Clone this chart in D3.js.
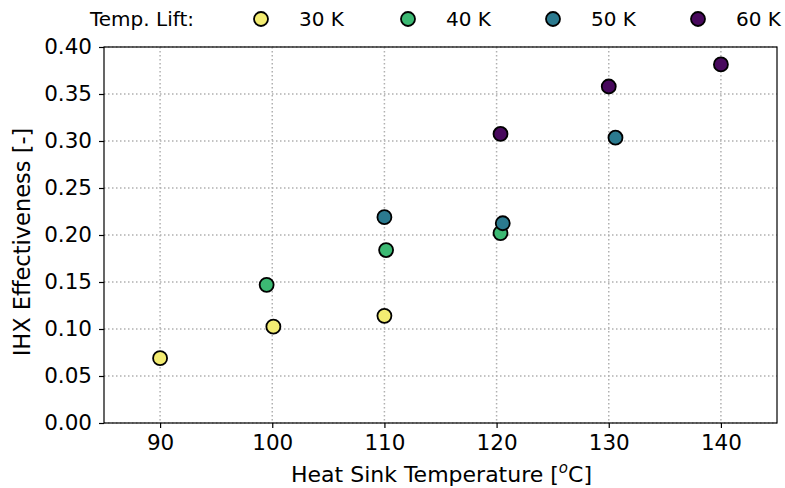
<!DOCTYPE html>
<html>
<head>
<meta charset="utf-8">
<script src="https://cdn.jsdelivr.net/npm/d3@7"></script>
<style>
  body { margin: 0; background: #fff; }
  text { font-family: "DejaVu Sans", sans-serif; fill: #000; }
</style>
</head>
<body>
<svg id="chart" width="785" height="488"></svg>
<script>
// series data
const lifts = ['30 K', '40 K', '50 K', '60 K'];
const colors = ['#f3ec72', '#3cb973', '#2b7a8f', '#48095d'];
const sink30 = [90.0, 100.1, 110.0];
const eff30 = [0.069, 0.1025, 0.114];
const sink40 = [99.5, 110.15, 120.35];
const eff40 = [0.147, 0.184, 0.202];
const sink50 = [110.0, 120.55, 130.6];
const eff50 = [0.219, 0.2125, 0.3035];
const sink60 = [120.35, 130.0, 140.0];
const eff60 = [0.3075, 0.358, 0.3815];
const xTicks = [90, 100, 110, 120, 130, 140];
const yTicks = [0, 0.05, 0.10, 0.15, 0.20, 0.25, 0.30, 0.35, 0.40];

const series = [
  { name: lifts[0], color: colors[0], x: sink30, y: eff30 },
  { name: lifts[1], color: colors[1], x: sink40, y: eff40 },
  { name: lifts[2], color: colors[2], x: sink50, y: eff50 },
  { name: lifts[3], color: colors[3], x: sink60, y: eff60 }
];

const svg = d3.select('#chart');
const m = { left: 104, right: 777, top: 47, bottom: 423 };

const x = d3.scaleLinear().domain([85, 145]).range([m.left, m.right]);
const y = d3.scaleLinear().domain([0, 0.40]).range([m.bottom, m.top]);

// grid
const grid = svg.append('g');
grid.selectAll('.gx').data(xTicks).enter().append('line')
  .attr('x1', d => x(d)).attr('x2', d => x(d))
  .attr('y1', m.top).attr('y2', m.bottom)
  .attr('stroke', '#b0b0b0').attr('stroke-width', 1.5)
  .attr('stroke-dasharray', '1.5,2.5');
grid.selectAll('.gy').data(yTicks).enter().append('line')
  .attr('x1', m.left).attr('x2', m.right)
  .attr('y1', d => y(d)).attr('y2', d => y(d))
  .attr('stroke', '#b0b0b0').attr('stroke-width', 1.5)
  .attr('stroke-dasharray', '1.5,2.5');

// axes
const xAxis = svg.append('g')
  .attr('transform', `translate(0,${m.bottom})`)
  .call(d3.axisBottom(x).tickValues(xTicks).tickSize(5).tickPadding(7).tickFormat(d3.format('d')));
const yAxis = svg.append('g')
  .attr('transform', `translate(${m.left},0)`)
  .call(d3.axisLeft(y).tickValues(yTicks).tickSize(5).tickPadding(7).tickFormat(d3.format('.2f')));
[xAxis, yAxis].forEach(a => {
  a.select('.domain').remove();
  a.selectAll('.tick line').attr('stroke', '#000').attr('stroke-width', 1.2);
  a.selectAll('.tick text').style('font-size', '21.5px').style('font-family', '"DejaVu Sans", sans-serif');
});

// frame
svg.append('rect')
  .attr('x', m.left).attr('y', m.top)
  .attr('width', m.right - m.left).attr('height', m.bottom - m.top)
  .attr('fill', 'none').attr('stroke', '#000').attr('stroke-width', 1.2);

// points
series.forEach(s => {
  svg.append('g').selectAll('circle')
    .data(s.x.map((v, i) => [v, s.y[i]]))
    .enter().append('circle')
    .attr('cx', d => x(d[0])).attr('cy', d => y(d[1]))
    .attr('r', 7)
    .attr('fill', s.color)
    .attr('stroke', '#000').attr('stroke-width', 1.8);
});

// axis labels
const xl = svg.append('text')
  .attr('x', (m.left + m.right) / 2 + 1).attr('y', 482)
  .attr('text-anchor', 'middle').style('font-size', '22px');
xl.append('tspan').text('Heat Sink Temperature [');
xl.append('tspan').text('o').style('font-size', '15px').style('font-style', 'italic').attr('dy', -9);
xl.append('tspan').text('C]').attr('dy', 9);

svg.append('text')
  .attr('transform', `translate(30,${(m.top + m.bottom) / 2 + 7}) rotate(-90)`)
  .attr('text-anchor', 'middle').style('font-size', '22.5px')
  .text('IHX Effectiveness [-]');

// legend
const leg = svg.append('g');
leg.append('text').attr('x', 90).attr('y', 26).style('font-size', '20px').text('Temp. Lift:');
const legX = [261, 408, 553, 698];
series.forEach((s, i) => {
  leg.append('circle')
    .attr('cx', legX[i]).attr('cy', 19).attr('r', 7)
    .attr('fill', s.color).attr('stroke', '#000').attr('stroke-width', 1.8);
  leg.append('text').attr('x', legX[i] + 38).attr('y', 26)
    .style('font-size', '20px').text(s.name);
});
</script>
</body>
</html>
